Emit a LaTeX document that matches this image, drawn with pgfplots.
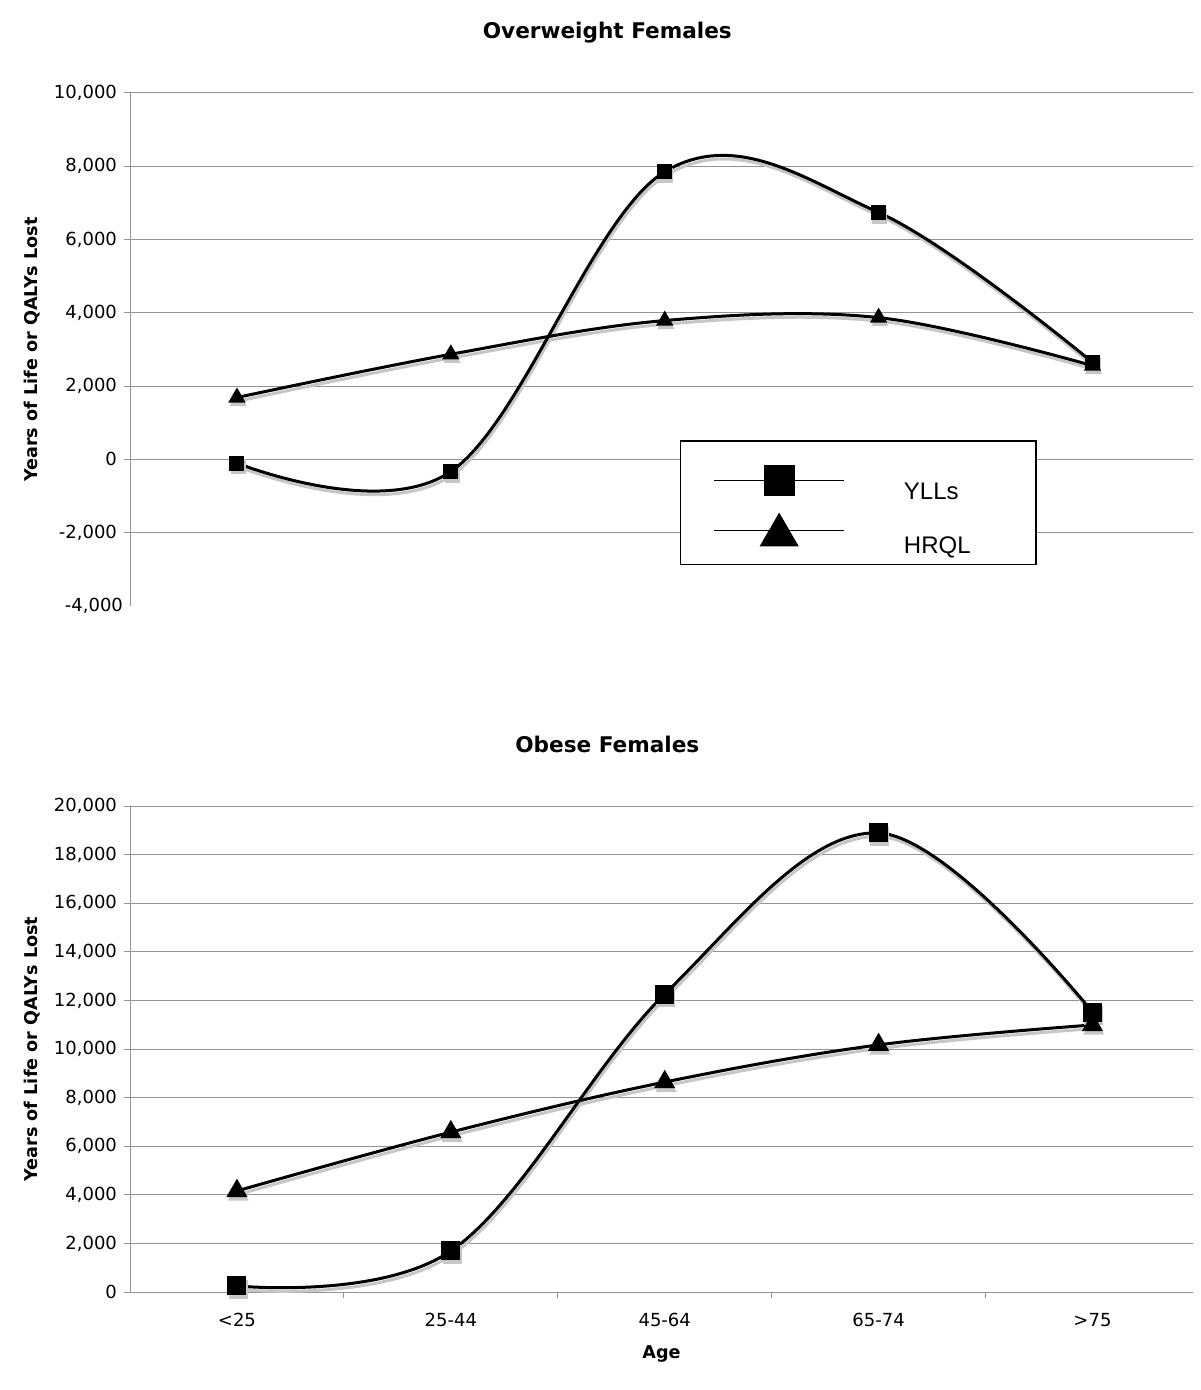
\documentclass[border=0pt]{standalone}
\usepackage{fontspec}
\setmainfont{DejaVu Sans}
\newfontfamily\legfont{Liberation Sans}
\usepackage{pgfplots}
\pgfplotsset{compat=1.18}
\begin{document}
\begin{tikzpicture}
\path[use as bounding box] (0,0) rectangle (600pt,-695pt);
\pgfplotsset{
  mystyle/.style={
    scale only axis, width=531.5pt,
    xmin=-0.5, xmax=4.47,
    /pgf/number format/assume math mode=true,
    /pgf/number format/1000 sep={,},
    scaled y ticks=false,
    tick label style={font=\fontsize{9}{11}\selectfont},
    label style={font=\bfseries\fontsize{8.8}{11}\selectfont},
    title style={font=\bfseries\fontsize{10.8}{13}\selectfont, at={(0.449,1)}, anchor=base, yshift=21pt},
    ylabel style={at={(axis description cs:-0.0922,0.5)}, anchor=center},
    ymajorgrids, grid style={gray!85, line width=0.5pt},
    axis line style={gray!85, line width=0.5pt},
    tick style={gray!85, line width=0.5pt},
    tick align=outside, major tick length=3pt, minor tick length=3pt,
    every axis plot/.append style={line width=1.5pt, smooth, tension=0.6},
  },
  shad/.style={gray!45, forget plot, xshift=0.6pt, yshift=-1.8pt},
}
% ---------------- Top: Overweight Females ----------------
\begin{axis}[mystyle,
  at={(65pt,-303pt)}, anchor=south west,
  height=256.5pt,
  ymin=-4000, ymax=10000,
  ytick={-2000,0,...,10000},
  extra y ticks={-4000}, extra y tick style={grid=none, major tick length=0pt},
  axis y line*=left, axis x line=none, xtick=\empty,
  title={Overweight Females},
  ylabel={Years of Life or QALYs Lost},
  legend style={at={(0.517,0.3236)}, anchor=north west, draw=black, line width=0.8pt,
    font=\legfont\fontsize{12}{14}\selectfont, inner xsep=16.5pt, inner ysep=4pt,
    column sep=29.5pt, row sep=6pt, cells={anchor=west},
    nodes={inner sep=0pt, text width=49.5pt}},
]
\addplot[shad, mark=square*, mark size=3pt] coordinates {(0,-100) (1,-330) (2,7850) (3,6740) (4,2650)};
\addplot[shad, mark=triangle*, mark size=3.5pt] coordinates {(0,1690) (1,2870) (2,3790) (3,3870) (4,2560)};
\addplot[black, mark=square*, mark size=3pt,
  legend image code/.code={\path (32pt,21pt);
    \draw[black, line width=0.8pt] (0pt,6pt) -- (65pt,6pt);
    \fill[black] (25.5pt,-1pt) rectangle (39.5pt,13pt);}]
  coordinates {(0,-100) (1,-330) (2,7850) (3,6740) (4,2650)};
\addlegendentry{YLLs}
\addplot[black, mark=triangle*, mark size=3.5pt,
  legend image code/.code={\draw[black, line width=0.8pt] (0pt,8pt) -- (65pt,8pt);
    \fill[black] (24pt,0.8pt) -- (41pt,0.8pt) -- (32.5pt,15.5pt) -- cycle;}]
  coordinates {(0,1690) (1,2870) (2,3790) (3,3870) (4,2560)};
\addlegendentry{HRQL}
\end{axis}
% ---------------- Bottom: Obese Females ----------------
\begin{axis}[mystyle,
  at={(65pt,-646pt)}, anchor=south west,
  height=243pt,
  ymin=0, ymax=20000,
  ytick={0,2000,...,20000},
  axis y line*=left, axis x line*=bottom,
  xtick={0,1,2,3,4},
  xticklabels={<25,25-44,45-64,65-74,>75},
  xticklabel style={yshift=-4pt},
  major x tick style={draw=none},
  minor xtick={0.5,1.5,2.5,3.5},
  title={Obese Females},
  ylabel={Years of Life or QALYs Lost},
  xlabel={Age},
  xlabel style={at={(axis description cs:0.5,0)}, anchor=base, yshift=-33pt},
]
\addplot[shad, mark=square*, mark size=4pt] coordinates {(0,250) (1,1690) (2,12260) (3,18890) (4,11520)};
\addplot[shad, mark=triangle*, mark size=4.6pt] coordinates {(0,4160) (1,6580) (2,8640) (3,10170) (4,10990)};
\addplot[black, mark=square*, mark size=4pt] coordinates {(0,250) (1,1690) (2,12260) (3,18890) (4,11520)};
\addplot[black, mark=triangle*, mark size=4.6pt] coordinates {(0,4160) (1,6580) (2,8640) (3,10170) (4,10990)};
\end{axis}
\end{tikzpicture}
\end{document}
